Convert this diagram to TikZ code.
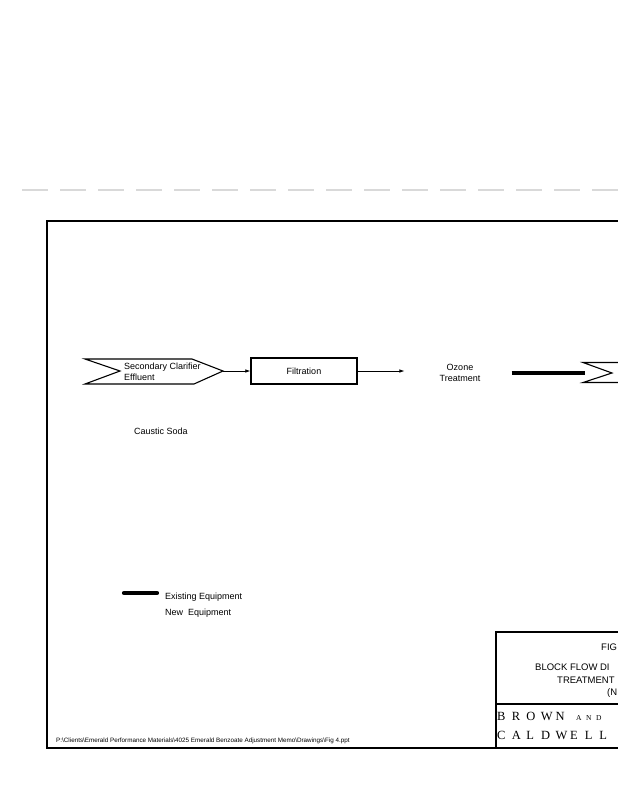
\documentclass[tikz,border=0pt]{standalone}
\usepackage{fontspec}
\setmainfont{Liberation Sans}
\newfontfamily\bcserif{Liberation Serif}
\usetikzlibrary{arrows.meta}
\newcommand{\bcl}[1]{\makebox[14.6pt][l]{#1}}
\newcommand{\bcs}[1]{\makebox[10pt][l]{#1}}
\begin{document}
\begin{tikzpicture}[x=1pt,y=-1pt,
  lbl/.style={font=\fontsize{9}{11.5}\selectfont, inner sep=0pt},
  tbl/.style={font=\fontsize{9.5}{11}\selectfont, inner sep=0pt, anchor=west},
  bc/.style={font=\bcserif\fontsize{12.5}{14}\selectfont, inner sep=0pt, anchor=west},
  frame/.style={line width=1.3pt},
  outline/.style={line width=1.1pt, line join=miter},
  flow/.style={line width=0.7pt, -{Latex[length=5pt,width=3.5pt]}}]
\useasboundingbox (0,0) rectangle (618,800);
\fill[white] (0,0) rectangle (618,800);
% faint dashed line
\draw[black!15, line width=1.6pt, dash pattern=on 26pt off 12pt] (22,190) -- (618,190);
% frame
\draw[frame] (618,221) -- (47,221) -- (47,748) -- (618,748);
% secondary clarifier effluent shape
\draw[outline] (85,359) -- (192,359) -- (223,371) -- (194,384) -- (85,384) -- (120,371) -- cycle;
\coordinate (scetip) at (223,371);
\node[lbl, anchor=west, align=left] (sce) at (124,372) {Secondary Clarifier\\Effluent};
% filtration
\node[lbl, draw, line width=1.3pt, minimum width=106pt, minimum height=26pt] (filt) at (304,371) {Filtration};
\draw[flow] (scetip) -- (filt.west);
% ozone
\node[lbl, align=center] (ozone) at (460,373) {Ozone\\Treatment};
\draw[flow] (filt.east) -- (filt.east -| ozone.west) [shorten >=35pt];
% thick existing line and next shape
\coordinate (notch) at (612,373);
\draw[line width=3.6pt, shorten <=31pt, shorten >=27pt] (ozone.east) -- (notch);
\draw[outline] (618,362.5) -- (583,362.5) -- (notch) -- (583,382.5) -- (618,382.5);
% caustic soda
\node[lbl] (caustic) at (161,431) {Caustic Soda};
% legend
\coordinate (legA) at (124,593);
\coordinate (legB) at (157,593);
\draw[line width=4.2pt, line cap=round] (legA) -- (legB);
\node[lbl, anchor=west] (exist) at (165,597) {Existing Equipment};
\node[lbl, anchor=west] (newe) at (165,613) {New\ \ Equipment};
% title block
\draw[frame] (618,632) -- (496,632) -- (496,748);
\draw[frame] (496,704) -- (618,704);
\node[tbl] (fig) at (601,647) {FIG};
\node[tbl] (bfd) at (535,667) {BLOCK FLOW DI};
\node[tbl] (treat) at (557,680) {TREATMENT};
\node[tbl] (nn) at (607,693) {(N};
\node[bc] (brown) at (497,716) {\bcl{B}\bcl{R}\bcl{O}\bcl{W}\bcl{N}\hspace{6pt}{\fontsize{7.5}{9}\selectfont\bcs{A}\bcs{N}\bcs{D}}};
\node[bc] (cald) at (497,735) {\bcl{C}\bcl{A}\bcl{L}\bcl{D}\bcl{W}\bcl{E}\bcl{L}\bcl{L}};
% file path
\node[inner sep=0pt, anchor=west, font=\fontsize{6.3}{7}\selectfont] (path) at (56,741) {P:\textbackslash Clients\textbackslash Emerald Performance Materials\textbackslash 4025 Emerald Benzoate Adjustment Memo\textbackslash Drawings\textbackslash Fig 4.ppt};
\end{tikzpicture}
\end{document}
